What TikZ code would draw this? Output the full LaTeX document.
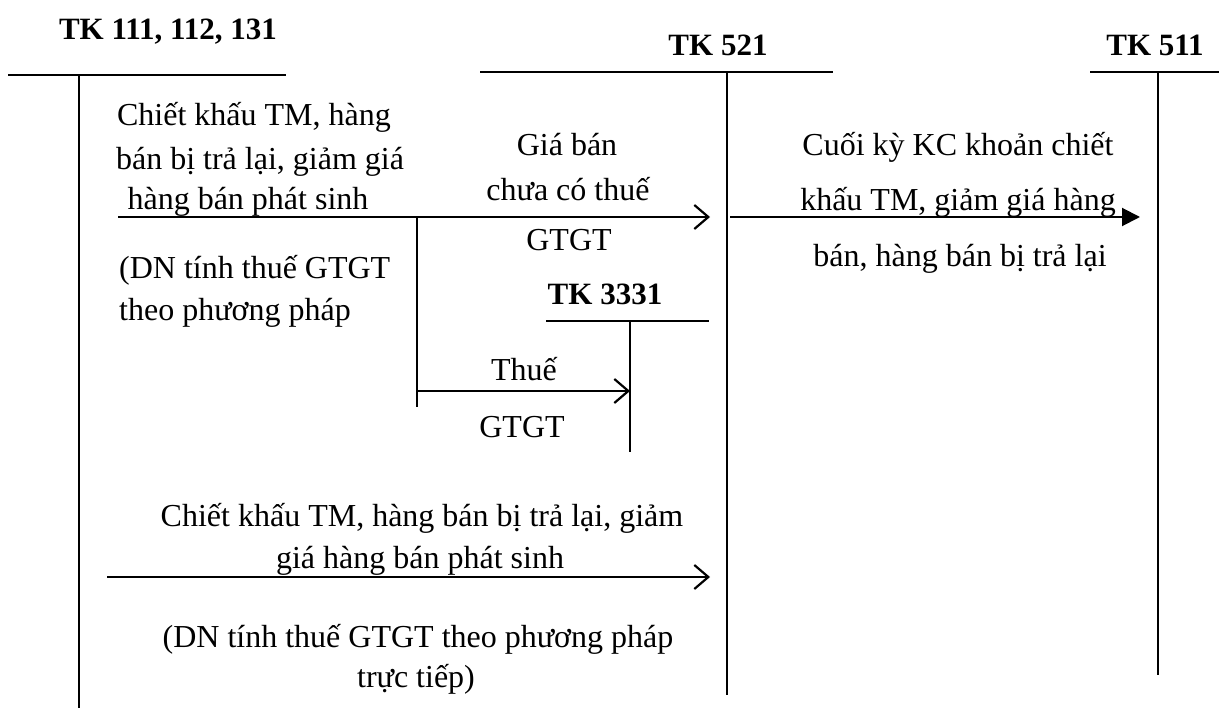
\documentclass[tikz,border=0pt]{standalone}
\usepackage{fontspec}
\setmainfont{Liberation Serif}
\usetikzlibrary{arrows.meta}
\begin{document}
\begin{tikzpicture}[x=1pt,y=-1pt,
  ln/.style={line width=2pt},
  barb/.style={ln,-{Straight Barb[length=14pt,width=24pt,line width=2.2pt]}},
  tri/.style={ln,-{Triangle[length=18pt,width=18pt]}},
  lbl/.style={font=\fontsize{32}{38}\selectfont,anchor=base,inner sep=0pt},
  ttl/.style={font=\fontsize{31}{37}\selectfont\bfseries,anchor=base,inner sep=0pt}]
\path[use as bounding box] (0,0) rectangle (1219,708);
% titles
\node[ttl] (h1) at (168,40) {TK 111, 112, 131};
\node[ttl] (h2) at (718,56) {TK 521};
\node[ttl] (h3) at (1155,56) {TK 511};
\node[ttl] (h4) at (605,305) {TK 3331};
% T-accounts
\coordinate (a1l) at (8,75); \coordinate (a1r) at (286,75);
\coordinate (a1t) at (79,75); \coordinate (a1b) at (79,708);
\coordinate (a2l) at (480,72); \coordinate (a2r) at (833,72);
\coordinate (a2t) at (727,72); \coordinate (a2b) at (727,695);
\coordinate (a3l) at (1090,72); \coordinate (a3r) at (1219,72);
\coordinate (a3t) at (1158,72); \coordinate (a3b) at (1158,675);
\coordinate (a4l) at (546,321); \coordinate (a4r) at (709,321);
\coordinate (a4t) at (630,321); \coordinate (a4b) at (630,452);
\draw[ln] (a1l) -- (a1r); \draw[ln] (a1t) -- (a1b);
\draw[ln] (a2l) -- (a2r); \draw[ln] (a2t) -- (a2b);
\draw[ln] (a3l) -- (a3r); \draw[ln] (a3t) -- (a3b);
\draw[ln] (a4l) -- (a4r); \draw[ln] (a4t) -- (a4b);
% connectors
\coordinate (p1s) at (118,217); \coordinate (p1e) at (710,217);
\coordinate (br) at (417,217); \coordinate (brb) at (417,407);
\coordinate (p2s) at (417,391); \coordinate (p2e) at (630,391);
\coordinate (p3s) at (730,217); \coordinate (p3e) at (1140,217);
\coordinate (p4s) at (107,577); \coordinate (p4e) at (710,577);
\draw[barb] (p1s) -- (p1e);
\draw[ln] (br) -- (brb);
\draw[barb] (p2s) -- (p2e);
\draw[tri] (p3s) -- (p3e);
\draw[barb] (p4s) -- (p4e);
% labels
\node[lbl] (t1a) at (254,126) {Chiết khấu TM, hàng};
\node[lbl] (t1b) at (260,170) {bán bị trả lại, giảm giá};
\node[lbl] (t1c) at (248,210) {hàng bán phát sinh};
\node[lbl,anchor=base west] (t2a) at (119,279) {(DN tính thuế GTGT};
\node[lbl,anchor=base west] (t2b) at (119,321) {theo phương pháp};
\node[lbl] (t3a) at (567,156) {Giá bán};
\node[lbl] (t3b) at (568,201) {chưa có thuế};
\node[lbl] (t3c) at (569,251) {GTGT};
\node[lbl] (t4a) at (958,156) {Cuối kỳ KC khoản chiết};
\node[lbl] (t4b) at (958,211) {khấu TM, giảm giá hàng};
\node[lbl] (t4c) at (960,267) {bán, hàng bán bị trả lại};
\node[lbl] (t5a) at (524,381) {Thuế};
\node[lbl] (t5b) at (522,438) {GTGT};
\node[lbl] (t6a) at (422,526) {Chiết khấu TM, hàng bán bị trả lại, giảm};
\node[lbl] (t6b) at (420,568) {giá hàng bán phát sinh};
\node[lbl] (t7a) at (418,647) {(DN tính thuế GTGT theo phương pháp};
\node[lbl] (t7b) at (416,687) {trực tiếp)};
\end{tikzpicture}
\end{document}
